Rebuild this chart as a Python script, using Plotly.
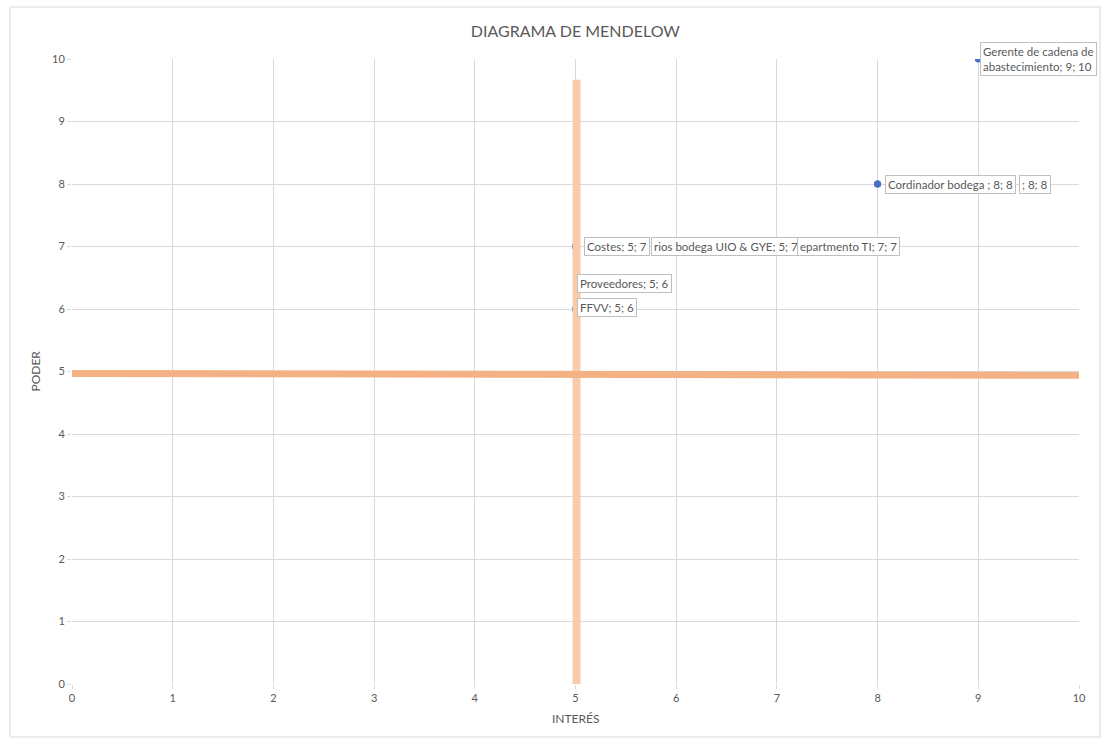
import plotly.graph_objects as go

# Stakeholders plotted on the Mendelow power/interest grid
interes = [9, 8, 8, 5, 5, 7, 5, 5]
poder = [10, 8, 8, 7, 7, 7, 6, 6]
etiquetas = [
    "Gerente de cadena de<br>abastecimiento; 9; 10",
    "Cordinador bodega ; 8; 8",
    "; 8; 8",
    "Costes; 5; 7",
    "rios bodega UIO & GYE; 5; 7",
    "epartmento TI; 7; 7",
    "Proveedores; 5; 6",
    "FFVV; 5; 6",
]

# Quadrant divider lines
divisor_h_x = [0, 10]
divisor_h_y = [4.97, 4.94]
divisor_v_x = [5.01, 5.01]
divisor_v_y = [0, 9.67]

ticks = list(range(0, 11))

# label offsets from each point, in pixels (xshift, yshift)
desplazamientos = [(2, 0), (7, 0), (141, 0), (8.5, 0), (75.5, 0), (20, 0), (1.5, 26), (1.5, 1.5)]

GRIS = "#595959"
REJILLA = "#d9d9d9"
FUENTE = "Lato, Open Sans, sans-serif"

fig = go.Figure()

# markers first so the divider lines sit on top of them
fig.add_trace(go.Scatter(
    x=interes, y=poder, mode="markers",
    marker=dict(color="#4472C4", size=7), showlegend=False,
))
fig.add_trace(go.Scatter(
    x=divisor_v_x, y=divisor_v_y, mode="lines",
    line=dict(color="#F8CBAD", width=8), hoverinfo="skip", showlegend=False,
))
fig.add_trace(go.Scatter(
    x=divisor_h_x, y=divisor_h_y, mode="lines",
    line=dict(color="#F4B183", width=7), hoverinfo="skip", showlegend=False,
))

for xi, yi, txt, (dx, dy) in zip(interes, poder, etiquetas, desplazamientos):
    fig.add_annotation(
        x=xi, y=yi, text=txt, showarrow=False,
        xanchor="left", yanchor="middle", align="left",
        xshift=dx, yshift=dy,
        font=dict(family=FUENTE, size=11.5, color=GRIS),
        bgcolor="white", bordercolor="#bfbfbf", borderwidth=1, borderpad=2,
    )

fig.add_annotation(
    text="PODER", xref="paper", yref="paper", x=-0.0367, y=0.5,
    textangle=-90, showarrow=False, xanchor="center", yanchor="middle",
    font=dict(family=FUENTE, size=12, color=GRIS),
)
fig.add_annotation(
    text="INTERÉS", xref="paper", yref="paper", x=0.5, y=-0.0544,
    showarrow=False, xanchor="center", yanchor="middle",
    font=dict(family=FUENTE, size=12, color=GRIS),
)

# chart area border
fig.add_shape(
    type="rect", xref="paper", yref="paper",
    x0=-0.0616, x1=1.0209, y0=-0.0848, y1=1.0832,
    line=dict(color=REJILLA, width=1), fillcolor="rgba(0,0,0,0)", layer="below",
)

eje = dict(
    range=[0, 10], tickvals=ticks, ticktext=[str(t) for t in ticks],
    showgrid=True, gridcolor=REJILLA, gridwidth=1,
    zeroline=False, showline=False,
    ticks="outside", ticklen=4, tickcolor=REJILLA,
    tickfont=dict(family=FUENTE, size=11, color=GRIS),
    fixedrange=True,
)

fig.update_layout(
    width=1103, height=741,
    margin=dict(l=72, r=24, t=59, b=57),
    paper_bgcolor="white", plot_bgcolor="white",
    title=dict(
        text="DIAGRAMA DE MENDELOW", x=0.5216, xanchor="center",
        y=1 - 31 / 741, yanchor="middle", yref="container",
        font=dict(family=FUENTE, size=16, color=GRIS),
    ),
    xaxis=eje,
    yaxis=eje,
)

fig.write_html("out.html")
